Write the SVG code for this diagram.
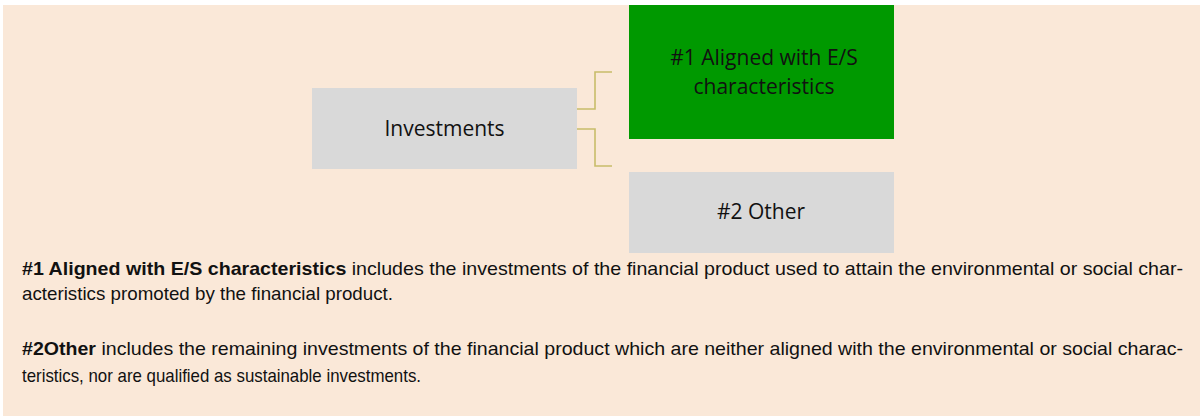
<svg xmlns="http://www.w3.org/2000/svg" width="1200" height="416" viewBox="0 0 1200 416">
<style>
.box{fill:#D9D9D9}
.green{fill:#009900}
.lbl{font-family:"Open Sans",Lato,sans-serif;font-size:21px;fill:#111;text-anchor:middle}
.conn{fill:none;stroke:#C8BC6A;stroke-width:1.6}
.body{font-family:"Liberation Sans",Arial,sans-serif;font-size:19px;fill:#111}
.b{font-weight:bold}
</style>
<rect x="0" y="0" width="1200" height="416" fill="#FFFFFF"/>
<rect x="3" y="5" width="1197" height="411" fill="#FAE8D8"/>
<g id="connectors">
<polyline class="conn" points="577,109 595,109 595,72 612,72"/>
<polyline class="conn" points="577,129 595,129 595,166 612,166"/>
</g>
<g id="investments">
<rect class="box" x="312" y="88" width="265" height="81"/>
<text class="lbl" x="444.5" y="136">Investments</text>
</g>
<g id="aligned">
<rect class="green" x="629" y="5" width="265" height="134"/>
<text class="lbl" x="764" y="64.5">#1 Aligned with E/S</text>
<text class="lbl" x="764" y="93.5">characteristics</text>
</g>
<g id="other">
<rect class="box" x="629" y="172" width="265" height="81"/>
<text class="lbl" x="761" y="219">#2 Other</text>
</g>
<g id="notes">
<text class="body" x="22" y="275" textLength="1161" lengthAdjust="spacingAndGlyphs"><tspan class="b">#1 Aligned with E/S characteristics</tspan> includes the investments of the financial product used to attain the environmental or social char-</text>
<text class="body" x="22" y="300" textLength="371" lengthAdjust="spacingAndGlyphs">acteristics promoted by the financial product.</text>
<text class="body" x="22" y="355" textLength="1161" lengthAdjust="spacingAndGlyphs"><tspan class="b">#2Other</tspan> includes the remaining investments of the financial product which are neither aligned with the environmental or social charac-</text>
<text class="body" x="22" y="382" textLength="399" lengthAdjust="spacingAndGlyphs">teristics, nor are qualified as sustainable investments.</text>
</g>
</svg>
